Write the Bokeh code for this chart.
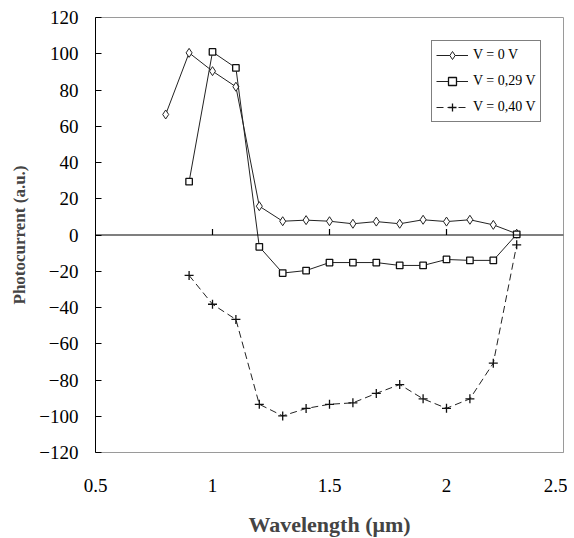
from bokeh.plotting import figure
from bokeh.models import Range1d, FixedTicker, Span, Legend, LegendItem
from bokeh.embed import file_html
from bokeh.resources import INLINE

# ---- data ----
wl_v0 = [0.8, 0.9, 1.0, 1.1, 1.2, 1.3, 1.4, 1.5, 1.6, 1.7, 1.8, 1.9, 2.0, 2.1, 2.2, 2.3]
pc_v0 = [66.5, 100.5, 90.4, 81.8, 15.9, 7.6, 8.2, 7.6, 6.2, 7.4, 6.2, 8.4, 7.4, 8.4, 5.6, 0.7]

wl_v29 = [0.9, 1.0, 1.1, 1.2, 1.3, 1.4, 1.5, 1.6, 1.7, 1.8, 1.9, 2.0, 2.1, 2.2, 2.3]
pc_v29 = [29.4, 101.0, 92.2, -6.5, -21.0, -19.6, -15.2, -15.2, -15.2, -16.8, -16.8, -13.5, -14.0, -14.0, 0.4]

wl_v40 = [0.9, 1.0, 1.1, 1.2, 1.3, 1.4, 1.5, 1.6, 1.7, 1.8, 1.9, 2.0, 2.1, 2.2, 2.3]
pc_v40 = [-22.3, -38.2, -46.6, -93.4, -99.8, -95.7, -93.4, -92.6, -87.4, -82.5, -90.4, -95.6, -90.4, -70.7, -5.4]

x_ticks = [0.5, 1, 1.5, 2, 2.5]
x_tick_labels = ["0.5", "1", "1.5", "2", "2.5"]
y_ticks = [-120, -100, -80, -60, -40, -20, 0, 20, 40, 60, 80, 100, 120]

labels = ["V = 0 V", "V = 0,29 V", "V = 0,40 V"]

FONT = "Liberation Serif"

p = figure(frame_width=468, frame_height=435,
           x_range=Range1d(0.5, 2.5), y_range=Range1d(-120, 120),
           output_backend="svg", toolbar_location=None,
           min_border_left=95, min_border_top=17, min_border_right=4,
           min_border_bottom=80)

p.background_fill_color = "white"
p.border_fill_color = "white"
p.outline_line_color = "#9a9a9a"
p.xgrid.visible = False
p.ygrid.visible = False

# y axis
p.yaxis.ticker = FixedTicker(ticks=y_ticks)
p.yaxis.major_tick_in = 6
p.yaxis.major_tick_out = 0
p.yaxis.minor_tick_line_color = None
p.yaxis.axis_line_color = "black"
p.yaxis.major_label_text_font = FONT
p.yaxis.major_label_text_font_size = "19px"
p.yaxis.major_label_text_color = "black"
p.yaxis.major_label_standoff = 17
p.yaxis.axis_label = "Photocurrent (a.u.)"
p.yaxis.axis_label_text_font = FONT
p.yaxis.axis_label_text_font_size = "17px"
p.yaxis.axis_label_text_font_style = "bold"
p.yaxis.axis_label_standoff = 7

# x axis (labels at the bottom, ticks drawn on the zero line)
p.xaxis.ticker = FixedTicker(ticks=x_ticks)
p.xaxis.major_label_overrides = {t: s for t, s in zip(x_ticks, x_tick_labels)}
p.xaxis.major_tick_line_color = None
p.xaxis.minor_tick_line_color = None
p.xaxis.axis_line_color = "#9a9a9a"
p.xaxis.major_label_text_font = FONT
p.xaxis.major_label_text_font_size = "19px"
p.xaxis.major_label_text_color = "black"
p.xaxis.major_label_standoff = 20
p.xaxis.axis_label = "Wavelength (\u03bcm)"
p.xaxis.axis_label_text_font = FONT
p.xaxis.axis_label_text_font_size = "22px"
p.xaxis.axis_label_text_font_style = "bold"
p.xaxis.axis_label_standoff = 17

# zero line with its ticks
p.add_layout(Span(location=0, dimension="width", line_color="black", line_width=1.2))
inner_ticks = x_ticks[1:-1]
p.segment(x0=inner_ticks, y0=[0] * len(inner_ticks), x1=inner_ticks,
          y1=[3.3] * len(inner_ticks), line_color="black", line_width=1.2)

# series
l0 = p.line(wl_v0, pc_v0, line_color="#222222", line_width=1)
s0 = p.scatter(wl_v0, pc_v0, marker="diamond", size=9, fill_color="white",
               line_color="#222222", line_width=1)

l1 = p.line(wl_v29, pc_v29, line_color="#222222", line_width=1)
s1 = p.scatter(wl_v29, pc_v29, marker="square", size=6.5, fill_color="white",
               line_color="#111111", line_width=1.3)

l2 = p.line(wl_v40, pc_v40, line_color="#222222", line_width=1, line_dash="7 4")
s2 = p.scatter(wl_v40, pc_v40, marker="cross", size=9, line_color="#111111",
               line_width=1.3)

legend = Legend(items=[LegendItem(label=labels[0], renderers=[l0, s0]),
                       LegendItem(label=labels[1], renderers=[l1, s1]),
                       LegendItem(label=labels[2], renderers=[l2, s2])],
                location=(336, 330))
legend.border_line_color = "black"
legend.border_line_width = 1
legend.background_fill_color = "white"
legend.background_fill_alpha = 1
legend.label_text_font = FONT
legend.label_text_font_size = "14px"
legend.label_text_color = "black"
legend.glyph_width = 32
legend.glyph_height = 20
legend.label_height = 20
legend.spacing = 6
legend.padding = 4
legend.margin = 0
legend.label_standoff = 5
p.add_layout(legend, "center")

open("out.html", "w").write(file_html(p, INLINE))
